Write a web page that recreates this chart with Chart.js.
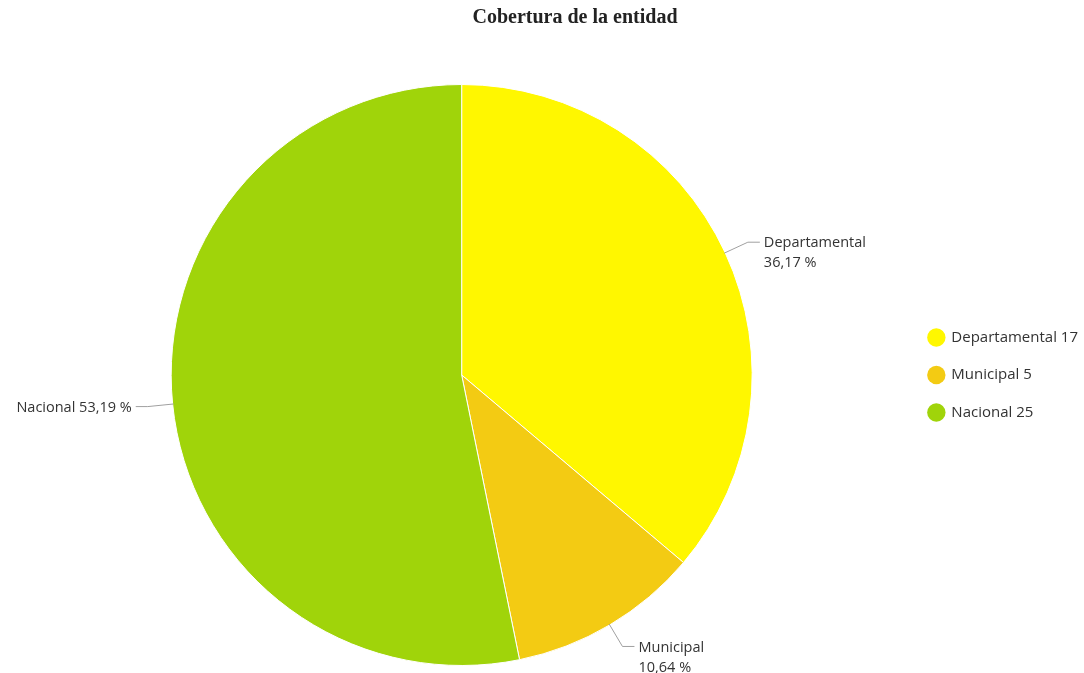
<!DOCTYPE html>
<html>
<head>
<meta charset="utf-8">
<script src="https://cdn.jsdelivr.net/npm/chart.js@4.4.0/dist/chart.umd.min.js"></script>
<style>
    body { margin: 0; background: #fff; }
    #wrap { position: relative; width: 1084px; height: 673px; }
</style>
</head>
<body>
<div id="wrap"><canvas id="cobertura"></canvas></div>
<script>
    "use strict";

    var titulo = "Cobertura de la entidad";
    var categorias = ["Departamental", "Municipal", "Nacional"];
    var valores = [17, 5, 25];
    var colores = ["#fff700", "#f3cb13", "#a0d40a"];

    var fuente = '"Open Sans", "Noto Sans", sans-serif';

    function porcentaje(v) {
        var total = valores.reduce(function (a, b) { return a + b; }, 0);
        return (v / total * 100).toFixed(2).replace(".", ",") + " %";
    }

    // Title, drawn off-centre like the original
    var tituloPlugin = {
        id: "tituloPlugin",
        afterDraw: function (chart) {
            var ctx = chart.ctx;
            ctx.save();
            ctx.font = 'bold 20px "Liberation Serif", "DejaVu Serif", serif';
            ctx.fillStyle = "#222";
            ctx.textAlign = "center";
            ctx.textBaseline = "middle";
            ctx.fillText(titulo, 575, 18);
            ctx.restore();
        }
    };

    // Data labels with connector lines
    var etiquetasPlugin = {
        id: "etiquetasPlugin",
        afterDatasetsDraw: function (chart) {
            var ctx = chart.ctx;
            var meta = chart.getDatasetMeta(0);
            ctx.save();
            ctx.font = "14.5px " + fuente;
            ctx.textBaseline = "middle";
            meta.data.forEach(function (arc, i) {
                var p = arc.getProps(["x", "y", "startAngle", "endAngle", "outerRadius"], true);
                var mid = (p.startAngle + p.endAngle) / 2;
                var c = Math.cos(mid), s = Math.sin(mid);
                var x0 = p.x + c * (p.outerRadius - 1), y0 = p.y + s * (p.outerRadius - 1);
                var x1 = p.x + c * (p.outerRadius + 25), y1 = p.y + s * (p.outerRadius + 25);
                var derecha = c >= 0;
                var x2 = x1 + (derecha ? 12 : -12);

                ctx.strokeStyle = "#a0a0a0";
                ctx.lineWidth = 1;
                ctx.beginPath();
                ctx.moveTo(x0, y0);
                ctx.lineTo(x1, y1);
                ctx.lineTo(x2, y1);
                ctx.stroke();

                ctx.fillStyle = "#333";
                if (derecha) {
                    ctx.textAlign = "left";
                    ctx.fillText(categorias[i], x2 + 4, y1 + 1);
                    ctx.fillText(porcentaje(valores[i]), x2 + 4, y1 + 21);
                } else {
                    ctx.textAlign = "right";
                    ctx.fillText(categorias[i] + " " + porcentaje(valores[i]), x2 - 4, y1 + 1);
                }
            });
            ctx.restore();
        }
    };

    var ctx = document.getElementById("cobertura").getContext("2d");
    var grafico = new Chart(ctx, {
        type: "pie",
        data: {
            labels: categorias,
            datasets: [{
                data: valores,
                backgroundColor: colores,
                borderColor: "#fff",
                borderWidth: 1
            }]
        },
        options: {
            responsive: true,
            maintainAspectRatio: false,
            animation: false,
            layout: {
                padding: { top: 84, bottom: 7, left: 17, right: -4 }
            },
            plugins: {
                title: { display: false },
                legend: {
                    position: "right",
                    labels: {
                        usePointStyle: true,
                        pointStyle: "circle",
                        boxHeight: 13,
                        padding: 22.5,
                        color: "#333",
                        font: { family: fuente, size: 15 },
                        generateLabels: function (chart) {
                            var items = Chart.overrides.doughnut.plugins.legend.labels.generateLabels(chart);
                            items.forEach(function (it, i) {
                                it.text = categorias[i] + " " + valores[i];
                                it.lineWidth = 0;
                                it.strokeStyle = colores[i];
                            });
                            return items;
                        }
                    }
                }
            }
        },
        plugins: [tituloPlugin, etiquetasPlugin]
    });
</script>
</body>
</html>
